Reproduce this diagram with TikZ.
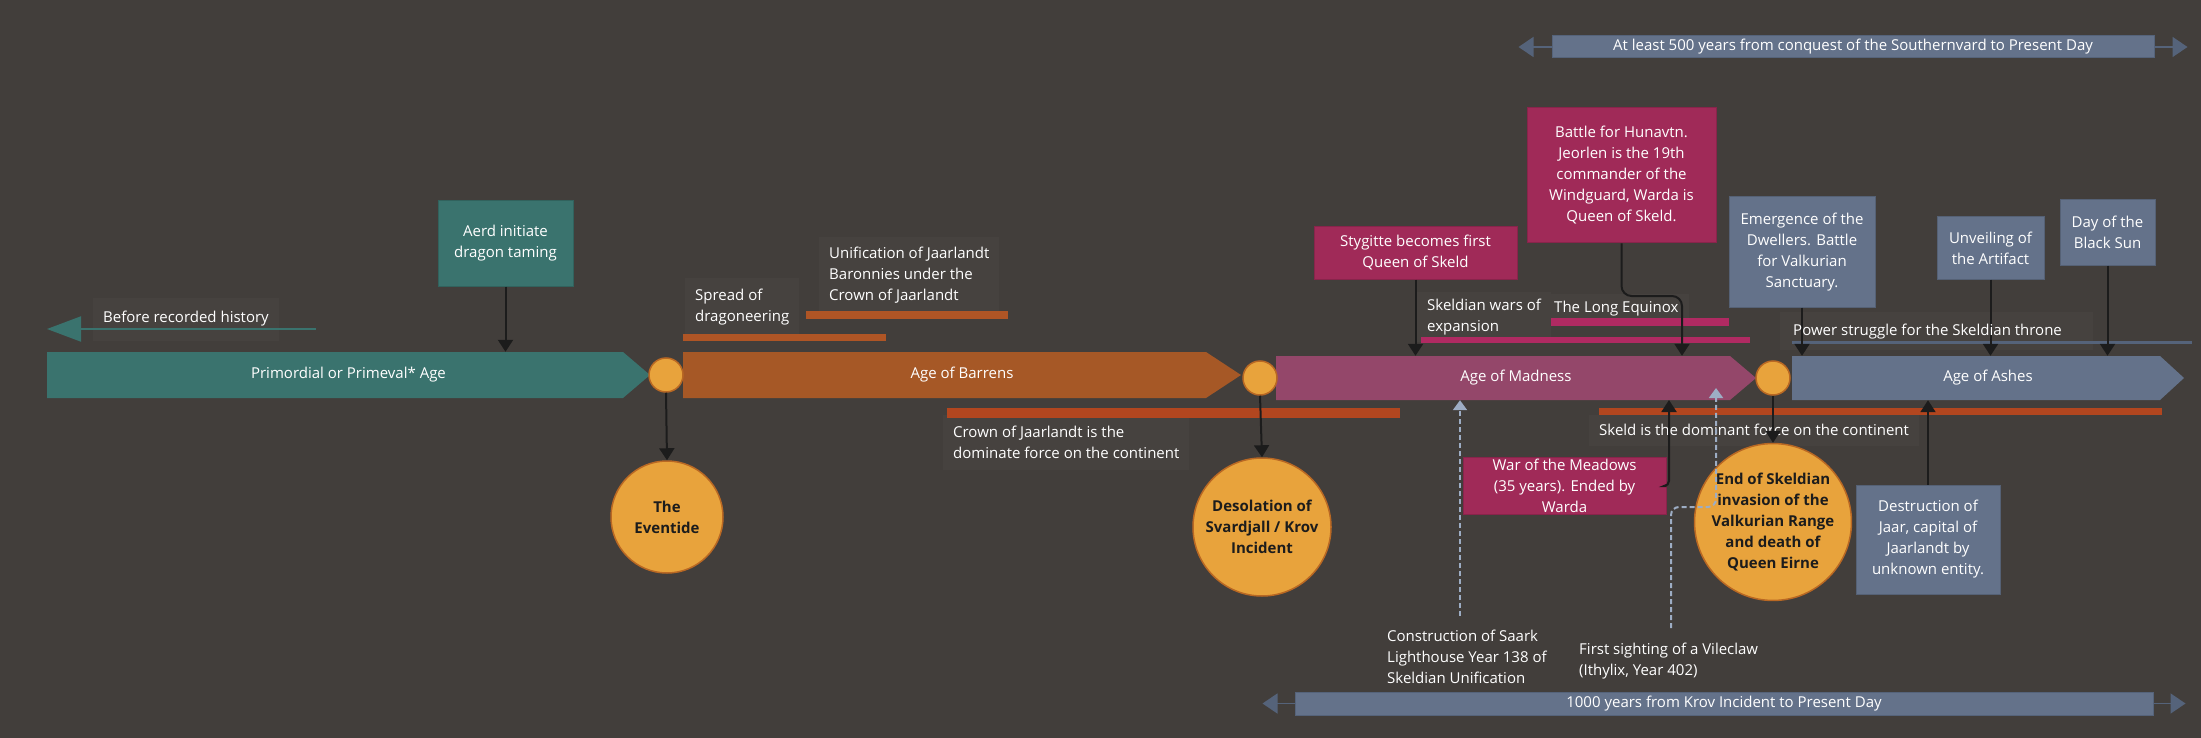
\documentclass[tikz,border=0pt]{standalone}
\usepackage{fontspec}
\setmainfont{Open Sans}
\usetikzlibrary{arrows.meta}

\definecolor{bgcol}{HTML}{423E3B}
\definecolor{notecol}{HTML}{46423F}
\definecolor{tealcol}{HTML}{3A736E}
\definecolor{barrenscol}{HTML}{A65826}
\definecolor{madcol}{HTML}{94476A}
\definecolor{ashcol}{HTML}{64728A}
\definecolor{ashedge}{HTML}{55637A}
\definecolor{magcol}{HTML}{A02A58}
\definecolor{magbar}{HTML}{B02A62}
\definecolor{orangebar}{HTML}{AF5525}
\definecolor{redbar}{HTML}{B2461F}
\definecolor{ambercol}{HTML}{E8A33C}
\definecolor{amberedge}{HTML}{B96823}
\definecolor{inkcol}{HTML}{1C1C1C}
\definecolor{dashcol}{HTML}{9DADC4}

\tikzset{
  every node/.style={font=\fontsize{15}{21}\selectfont, text=white},
  agetext/.style={rectangle, inner sep=0},
  evbox/.style={rectangle, fill=#1, draw=#1!85!black, line width=1, align=center, inner sep=0},
  dot/.style={circle, fill=ambercol, draw=amberedge, line width=1.5, minimum size=34, inner sep=0},
  bigdot/.style={circle, fill=ambercol, draw=amberedge, line width=1.5, inner sep=0,
    text=inkcol, font=\fontsize{15}{21}\selectfont\bfseries, align=center},
  note/.style={fill=notecol, inner xsep=10, inner ysep=5, align=left, anchor=west},
  plainnote/.style={inner xsep=10, inner ysep=5, align=left, anchor=west},
  conn/.style={draw=inkcol, line width=2, -{Triangle[length=12pt,width=15pt]}},
  dashconn/.style={draw=dashcol, line width=2, dash pattern=on 5pt off 3pt,
    -{Triangle[length=10pt,width=14pt]}},
  pastarrow/.style={draw=tealcol, line width=2, -{Triangle[length=34pt,width=25pt]}},
  spanbar/.style={rectangle, fill=ashcol, draw=ashedge, line width=1, inner sep=0, minimum height=22},
  spantip/.style={draw=ashedge, line width=1.5, -{Triangle[length=15pt,width=20pt]}},
}

\begin{document}
\begin{tikzpicture}[x=1pt,y=-1pt]
  \useasboundingbox (0,0) rectangle (2201,738);
  \fill[bgcol] (0,0) rectangle (2201,738);

  \node[note, minimum height=43] (before) at (93,319) {Before recorded history};
  \node[note, minimum height=58] (spread) at (685,307) {Spread of\\dragoneering};
  \node[note, minimum height=76] (unification) at (819,275) {Unification of Jaarlandt\\Baronnies under the\\Crown of Jaarlandt};
  \node[note, minimum height=55] (crown) at (943,442) {Crown of Jaarlandt is the\\dominate force on the continent};
  \node[note, minimum height=50] (wars) at (1417,317) {Skeldian wars of\\expansion};
  \node[note, minimum height=30] (equinox) at (1544,309) {The Long Equinox};
  \fill[notecol] (1780,312) rectangle (2093,350);
  \node[note, minimum height=31] (skeld) at (1589,430) {Skeld is the dominant force on the continent};
  \node[plainnote] (construction) at (1377,657) {Construction of Saark\\Lighthouse Year 138 of\\Skeldian Unification};
  \node[plainnote] (sighting) at (1569,661) {First sighting of a Vileclaw\\(Ithylix, Year 402)};

  \fill[orangebar] (683,334) rectangle (886,341);
  \fill[orangebar] (806,311) rectangle (1008,319);
  \fill[redbar] (947,408) rectangle (1400,418);
  \fill[magbar] (1421,337) rectangle (1750,343);
  \fill[magbar] (1551,318) rectangle (1729,326);
  \fill[ashedge] (1792,341) rectangle (2192,344);
  \fill[redbar] (1599,408) rectangle (2162,415);

  \coordinate (pastfrom) at (316,329);
  \coordinate (pastto) at (47,329);
  \draw[pastarrow] (pastfrom) -- (pastto);

  \fill[tealcol] (47,352) -- (623,352) -- (650,375) -- (623,398) -- (47,398) -- cycle;
  \fill[barrenscol] (683,352) -- (1206,352) -- (1241,375) -- (1206,398) -- (683,398) -- cycle;
  \fill[madcol] (1276,356) -- (1730,356) -- (1756,378) -- (1730,400) -- (1276,400) -- cycle;
  \fill[ashcol] (1792,356) -- (2160,356) -- (2184,378) -- (2160,400) -- (1792,400) -- cycle;
  \node[agetext, minimum width=603, minimum height=46] (primordial) at (348.5,375) {Primordial or Primeval* Age};
  \node[agetext, minimum width=558, minimum height=46] (barrens) at (962,375) {Age of Barrens};
  \node[agetext, minimum width=480, minimum height=44] (madness) at (1516,378) {Age of Madness};
  \node[agetext, minimum width=392, minimum height=44] (ashes) at (1988,378) {Age of Ashes};

  \node[evbox=tealcol, minimum width=135, minimum height=85] (aerd) at (505.5,243.5) {Aerd initiate\\dragon taming};
  \node[evbox=magcol, minimum width=203, minimum height=52] (stygitte) at (1415.5,253) {Stygitte becomes first\\Queen of Skeld};
  \node[evbox=magcol, minimum width=189, minimum height=135] (battle) at (1621.5,175.5) {Battle for Hunavtn.\\Jeorlen is the 19th\\commander of the\\Windguard, Warda is\\Queen of Skeld.};
  \node[evbox=magcol, minimum width=203, minimum height=57] (war) at (1564.5,486) {War of the Meadows\\(35 years). Ended by\\Warda};
  \node[evbox=ashcol, minimum width=146, minimum height=110] (emergence) at (1802,252) {Emergence of the\\Dwellers. Battle\\for Valkurian\\Sanctuary.};
  \node[evbox=ashcol, minimum width=107, minimum height=62] (unveiling) at (1990.5,248) {Unveiling of\\the Artifact};
  \node[evbox=ashcol, minimum width=95, minimum height=65] (blacksun) at (2107.5,232.5) {Day of the\\Black Sun};
  \node[evbox=ashcol, minimum width=144, minimum height=109] (destruction) at (1928,539.5) {Destruction of\\Jaar, capital of\\Jaarlandt by\\unknown entity.};

  \node[dot] (c1) at (666,375) {};
  \node[dot] (c2) at (1260,378) {};
  \node[dot] (c3) at (1773,378) {};
  \node[bigdot, minimum size=112] (eventide) at (667,517) {The\\Eventide};
  \node[bigdot, minimum size=138] (desolation) at (1262,527) {Desolation of\\Svardjall / Krov\\Incident};
  \node[bigdot, minimum size=148] (endsk) at (1773,522) {End of Skeldian\\invasion of the\\Valkurian Range\\and death of\\Queen Eirne};

  \coordinate (battleknee) at (1682,296);
  \coordinate (warup) at (1669,400);
  \coordinate (constrfrom) at (1460,616);
  \coordinate (sightfrom) at (1671,628);
  \coordinate (sightknee) at (1716,507);
  \coordinate (sightto) at (1716,388);

  \draw[conn] (aerd.south) -- (aerd.south |- primordial.north);
  \draw[conn] (c1.south) -- (eventide.north);
  \draw[conn] (c2.south) -- (desolation.north);
  \draw[conn] (stygitte.south) -- (stygitte.south |- madness.north);
  \draw[conn, rounded corners=10] (battle.south) |- (battleknee) -- (battleknee |- madness.north);
  \draw[conn, rounded corners=5] (war.east) -| (warup);
  \draw[conn] (c3.south) -- (endsk.north);
  \draw[conn] (emergence.south) -- (emergence.south |- ashes.north);
  \draw[conn] (unveiling.south) -- (unveiling.south |- ashes.north);
  \draw[conn] (blacksun.south) -- (blacksun.south |- ashes.north);
  \draw[conn] (destruction.north) -- (destruction.north |- ashes.south);

  \node[plainnote] (power) at (1783,332) {Power struggle for the Skeldian throne};

  \draw[dashconn] (constrfrom) -- (constrfrom |- madness.south);
  \draw[dashconn, rounded corners=8] (sightfrom) |- (sightknee) -- (sightto);

  \node[spanbar, minimum width=602] (topspan) at (1853,47) {At least 500 years from conquest of the Southernvard to Present Day};
  \draw[spantip] (topspan.west) -- ++(-33,0);
  \draw[spantip] (topspan.east) -- ++(33,0);
  \node[spanbar, minimum width=858, minimum height=23] (botspan) at (1724,703.5) {1000 years from Krov Incident to Present Day};
  \draw[spantip] (botspan.west) -- ++(-32,0);
  \draw[spantip] (botspan.east) -- ++(32,0);
\end{tikzpicture}
\end{document}
